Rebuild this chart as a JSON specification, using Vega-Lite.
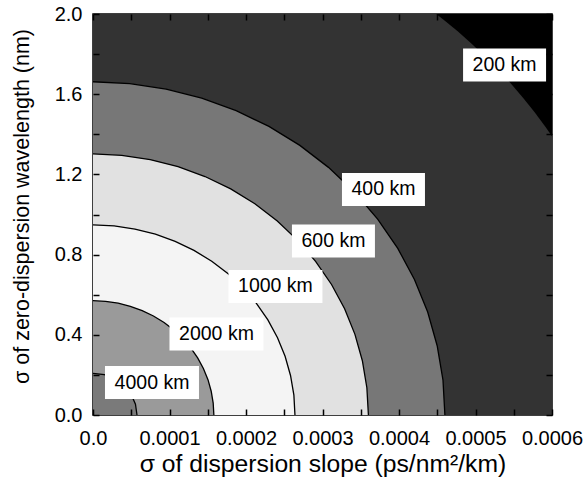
{
  "$schema": "https://vega.github.io/schema/vega-lite/v6.json",
  "width": 459,
  "height": 401,
  "autosize": {"type": "none"},
  "padding": {"left": 93, "top": 14, "right": 35, "bottom": 64},
  "config": {
    "font": "Liberation Sans",
    "view": {"fill": "#000000", "stroke": "#000000", "strokeWidth": 1.5},
    "axis": {"grid": false, "labelFont": "Liberation Sans", "titleFont": "Liberation Sans", "labelColor": "#000", "titleColor": "#000", "tickColor": "#000", "labelFontSize": 20, "titleFontSize": 21.5, "titleFontWeight": "normal", "tickWidth": 1.5, "tickSize": 6}
  },
  "datasets": {
    "bounds": [
      {"b": 1, "x": 0, "y": 0.208},
      {"b": 1, "x": 0.0000149, "y": 0.2009},
      {"b": 1, "x": 0.0000288, "y": 0.1801},
      {"b": 1, "x": 0.0000407, "y": 0.1471},
      {"b": 1, "x": 0.0000498, "y": 0.104},
      {"b": 1, "x": 0.0000555, "y": 0.0538},
      {"b": 1, "x": 0.0000575, "y": 0},
      {"b": 2, "x": 0, "y": 0.570},
      {"b": 2, "x": 0.0000165, "y": 0.5669},
      {"b": 2, "x": 0.0000329, "y": 0.5575},
      {"b": 2, "x": 0.0000488, "y": 0.5421},
      {"b": 2, "x": 0.0000643, "y": 0.5207},
      {"b": 2, "x": 0.000079, "y": 0.4936},
      {"b": 2, "x": 0.0000929, "y": 0.4611},
      {"b": 2, "x": 0.0001057, "y": 0.4236},
      {"b": 2, "x": 0.0001174, "y": 0.3814},
      {"b": 2, "x": 0.0001278, "y": 0.3350},
      {"b": 2, "x": 0.0001368, "y": 0.285},
      {"b": 2, "x": 0.0001443, "y": 0.2318},
      {"b": 2, "x": 0.0001503, "y": 0.1761},
      {"b": 2, "x": 0.0001545, "y": 0.1185},
      {"b": 2, "x": 0.0001571, "y": 0.0596},
      {"b": 2, "x": 0.000158, "y": 0},
      {"b": 3, "x": 0, "y": 0.948},
      {"b": 3, "x": 0.0000276, "y": 0.9428},
      {"b": 3, "x": 0.0000549, "y": 0.9273},
      {"b": 3, "x": 0.0000816, "y": 0.9016},
      {"b": 3, "x": 0.0001074, "y": 0.8660},
      {"b": 3, "x": 0.000132, "y": 0.8210},
      {"b": 3, "x": 0.0001552, "y": 0.7669},
      {"b": 3, "x": 0.0001767, "y": 0.7045},
      {"b": 3, "x": 0.0001962, "y": 0.6343},
      {"b": 3, "x": 0.0002136, "y": 0.5572},
      {"b": 3, "x": 0.0002286, "y": 0.474},
      {"b": 3, "x": 0.0002412, "y": 0.3856},
      {"b": 3, "x": 0.0002511, "y": 0.2929},
      {"b": 3, "x": 0.0002582, "y": 0.1971},
      {"b": 3, "x": 0.0002626, "y": 0.0991},
      {"b": 3, "x": 0.000264, "y": 0},
      {"b": 4, "x": 0, "y": 1.302},
      {"b": 4, "x": 0.0000376, "y": 1.2949},
      {"b": 4, "x": 0.0000748, "y": 1.2736},
      {"b": 4, "x": 0.0001112, "y": 1.2383},
      {"b": 4, "x": 0.0001464, "y": 1.1894},
      {"b": 4, "x": 0.00018, "y": 1.1276},
      {"b": 4, "x": 0.0002116, "y": 1.0533},
      {"b": 4, "x": 0.0002409, "y": 0.9676},
      {"b": 4, "x": 0.0002675, "y": 0.8712},
      {"b": 4, "x": 0.0002912, "y": 0.7653},
      {"b": 4, "x": 0.0003118, "y": 0.651},
      {"b": 4, "x": 0.0003289, "y": 0.5296},
      {"b": 4, "x": 0.0003424, "y": 0.4023},
      {"b": 4, "x": 0.0003521, "y": 0.2707},
      {"b": 4, "x": 0.000358, "y": 0.1361},
      {"b": 4, "x": 0.00036, "y": 0},
      {"b": 5, "x": 0, "y": 1.662},
      {"b": 5, "x": 0.0000481, "y": 1.6529},
      {"b": 5, "x": 0.0000956, "y": 1.6257},
      {"b": 5, "x": 0.0001421, "y": 1.5807},
      {"b": 5, "x": 0.0001871, "y": 1.5183},
      {"b": 5, "x": 0.00023, "y": 1.4393},
      {"b": 5, "x": 0.0002704, "y": 1.3446},
      {"b": 5, "x": 0.0003078, "y": 1.2351},
      {"b": 5, "x": 0.0003418, "y": 1.1121},
      {"b": 5, "x": 0.0003721, "y": 0.9769},
      {"b": 5, "x": 0.0003984, "y": 0.831},
      {"b": 5, "x": 0.0004202, "y": 0.676},
      {"b": 5, "x": 0.0004375, "y": 0.5136},
      {"b": 5, "x": 0.0004499, "y": 0.3455},
      {"b": 5, "x": 0.0004575, "y": 0.1737},
      {"b": 5, "x": 0.00046, "y": 0},
      {"b": 6, "x": 0, "y": 2},
      {"b": 6, "x": 0.0004486, "y": 2},
      {"b": 6, "x": 0.0004583, "y": 1.9710},
      {"b": 6, "x": 0.0004771, "y": 1.9121},
      {"b": 6, "x": 0.0004953, "y": 1.8509},
      {"b": 6, "x": 0.0005129, "y": 1.7874},
      {"b": 6, "x": 0.0005299, "y": 1.7217},
      {"b": 6, "x": 0.0005462, "y": 1.6539},
      {"b": 6, "x": 0.0005618, "y": 1.5841},
      {"b": 6, "x": 0.0005768, "y": 1.5124},
      {"b": 6, "x": 0.0005911, "y": 1.4388},
      {"b": 6, "x": 0.0006, "y": 1.390}
    ],
    "labels": [
      {"label": "200 km", "x": 0.000538, "y": 1.746},
      {"label": "400 km", "x": 0.0003797, "y": 1.125},
      {"label": "600 km", "x": 0.0003143, "y": 0.868},
      {"label": "1000 km", "x": 0.0002385, "y": 0.641},
      {"label": "2000 km", "x": 0.0001614, "y": 0.404},
      {"label": "4000 km", "x": 0.0000771, "y": 0.162}
    ]
  },
  "layer": [
    {
      "data": {"name": "bounds"},
      "transform": [{"filter": "datum.b == 6"}],
      "mark": {"type": "area", "fill": "#333333"},
      "encoding": {
        "x": {"field": "x", "type": "quantitative", "scale": {"domain": [0, 0.0006], "nice": false},
          "axis": {"orient": "bottom", "zindex": 1, "offset": -6, "values": [0, 0.00005, 0.0001, 0.00015, 0.0002, 0.00025, 0.0003, 0.00035, 0.0004, 0.00045, 0.0005, 0.00055, 0.0006],
            "labelExpr": "datum.value == 0 ? '0.0' : (round(datum.value * 20000) % 2 == 0 ? format(datum.value, '.4f') : '')",
            "title": "σ of dispersion slope (ps/nm²/km)", "titleFontSize": 24.7, "domain": false, "labelPadding": 13.5, "titlePadding": 3, "labelFlush": false, "labelOverlap": false}},
        "y": {"field": "y", "type": "quantitative", "scale": {"domain": [0, 2], "nice": false},
          "axis": {"orient": "left", "zindex": 1, "offset": -6, "values": [0, 0.2, 0.4, 0.6, 0.8, 1.0, 1.2, 1.4, 1.6, 1.8, 2.0],
            "labelExpr": "round(datum.value * 10) % 4 == 0 ? format(datum.value, '.1f') : ''",
            "title": "σ of zero-dispersion wavelength (nm)", "domain": false, "labelPadding": 11, "titlePadding": 21, "titleY": 192, "labelFlush": false, "labelOverlap": false}}
      }
    },
    {
      "data": {"name": "bounds"},
      "transform": [{"filter": "datum.b == 5"}],
      "mark": {"type": "area", "fill": "#777777"},
      "encoding": {
        "x": {"field": "x", "type": "quantitative", "scale": {"domain": [0, 0.0006], "nice": false},
          "axis": {"orient": "top", "zindex": 1, "offset": -6, "values": [0, 0.00005, 0.0001, 0.00015, 0.0002, 0.00025, 0.0003, 0.00035, 0.0004, 0.00045, 0.0005, 0.00055, 0.0006], "labels": false, "title": null, "domain": false}},
        "y": {"field": "y", "type": "quantitative", "scale": {"domain": [0, 2], "nice": false},
          "axis": {"orient": "right", "zindex": 1, "offset": -6, "values": [0, 0.2, 0.4, 0.6, 0.8, 1.0, 1.2, 1.4, 1.6, 1.8, 2.0], "labels": false, "title": null, "domain": false}}
      }
    },
    {
      "data": {"name": "bounds"},
      "transform": [{"filter": "datum.b == 4"}],
      "mark": {"type": "area", "fill": "#e1e1e1"},
      "encoding": {
        "x": {"field": "x", "type": "quantitative", "axis": null},
        "y": {"field": "y", "type": "quantitative", "axis": null}
      }
    },
    {
      "data": {"name": "bounds"},
      "transform": [{"filter": "datum.b == 3"}],
      "mark": {"type": "area", "fill": "#f4f4f4"},
      "encoding": {
        "x": {"field": "x", "type": "quantitative", "axis": null},
        "y": {"field": "y", "type": "quantitative", "axis": null}
      }
    },
    {
      "data": {"name": "bounds"},
      "transform": [{"filter": "datum.b == 2"}],
      "mark": {"type": "area", "fill": "#9a9a9a"},
      "encoding": {
        "x": {"field": "x", "type": "quantitative", "axis": null},
        "y": {"field": "y", "type": "quantitative", "axis": null}
      }
    },
    {
      "data": {"name": "bounds"},
      "transform": [{"filter": "datum.b == 1"}],
      "mark": {"type": "area", "fill": "#7a7a7a"},
      "encoding": {
        "x": {"field": "x", "type": "quantitative", "axis": null},
        "y": {"field": "y", "type": "quantitative", "axis": null}
      }
    },
    {
      "data": {"name": "bounds"},
      "transform": [{"filter": "datum.b <= 5"}],
      "mark": {"type": "line", "stroke": "#000000", "strokeWidth": 1.3},
      "encoding": {
        "x": {"field": "x", "type": "quantitative", "axis": null},
        "y": {"field": "y", "type": "quantitative", "axis": null},
        "detail": {"field": "b", "type": "nominal"}
      }
    },
    {
      "data": {"name": "labels"},
      "transform": [{"filter": "length(datum.label) == 6"}],
      "mark": {"type": "rect", "fill": "#ffffff", "width": 83, "height": 33},
      "encoding": {
        "x": {"field": "x", "type": "quantitative", "axis": null},
        "y": {"field": "y", "type": "quantitative", "axis": null}
      }
    },
    {
      "data": {"name": "labels"},
      "transform": [{"filter": "length(datum.label) == 7"}],
      "mark": {"type": "rect", "fill": "#ffffff", "width": 94, "height": 33},
      "encoding": {
        "x": {"field": "x", "type": "quantitative", "axis": null},
        "y": {"field": "y", "type": "quantitative", "axis": null}
      }
    },
    {
      "data": {"name": "labels"},
      "mark": {"type": "text", "font": "Liberation Sans", "fontSize": 19.5, "color": "#000000", "align": "center", "baseline": "middle"},
      "encoding": {
        "x": {"field": "x", "type": "quantitative", "axis": null},
        "y": {"field": "y", "type": "quantitative", "axis": null},
        "text": {"field": "label", "type": "nominal"}
      }
    }
  ],
  "resolve": {"axis": {"x": "independent", "y": "independent"}}
}
